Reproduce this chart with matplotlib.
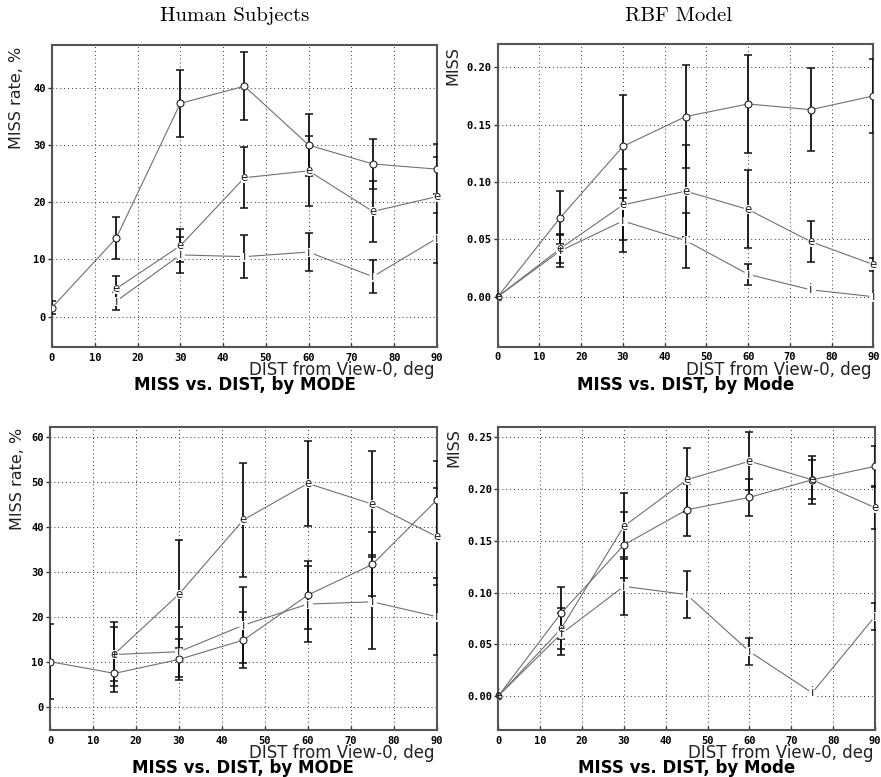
import matplotlib
matplotlib.use("Agg")
import matplotlib.pyplot as plt

# distances (deg) at which each mode was measured
dist = [0, 15, 30, 45, 60, 75, 90]
dist_late = [15, 30, 45, 60, 75, 90]

# top-left: human subjects, MISS rate %
hum_a_o = [1.6, 13.7, 37.3, 40.3, 30.0, 26.7, 25.8]
hum_a_o_err = [1.1, 3.7, 5.9, 5.9, 5.4, 4.3, 4.4]
hum_a_e = [4.9, 12.4, 24.3, 25.5, 18.4, 21.0]
hum_a_e_err = [2.2, 2.9, 5.3, 6.1, 5.4, 7.0]
hum_a_i = [2.7, 10.8, 10.5, 11.3, 7.0, 13.7]
hum_a_i_err = [1.6, 3.1, 3.8, 3.3, 2.9, 4.4]

# top-right: RBF model, MISS
rbf_a_o = [0.0, 0.069, 0.131, 0.157, 0.168, 0.163, 0.175]
rbf_a_o_err = [0.0, 0.023, 0.045, 0.045, 0.043, 0.036, 0.032]
rbf_a_e = [0.0, 0.042, 0.080, 0.092, 0.076, 0.048, 0.028]
rbf_a_e_err = [0.0, 0.013, 0.031, 0.040, 0.034, 0.018, 0.006]
rbf_a_i = [0.0, 0.040, 0.066, 0.049, 0.0195, 0.006, 0.0]
rbf_a_i_err = [0.0, 0.014, 0.027, 0.024, 0.009, 0.0, 0.0]

# bottom-left: human subjects, MISS rate %
hum_b_o = [10.0, 7.4, 10.5, 14.8, 24.8, 31.6, 45.9]
hum_b_o_err = [8.4, 4.1, 4.6, 6.3, 7.6, 7.1, 8.7]
hum_b_e = [11.7, 25.0, 41.5, 49.6, 45.0, 37.8]
hum_b_e_err = [7.2, 12.0, 12.7, 9.5, 11.8, 10.8]
hum_b_i = [11.6, 12.2, 18.1, 22.8, 23.3, 20.0]
hum_b_i_err = [6.0, 5.6, 8.4, 8.5, 10.5, 8.5]

# bottom-right: RBF model, MISS
rbf_b_o = [0.0, 0.080, 0.146, 0.180, 0.192, 0.209, 0.222]
rbf_b_o_err = [0.0, 0.025, 0.032, 0.025, 0.018, 0.019, 0.020]
rbf_b_e = [0.0, 0.065, 0.164, 0.209, 0.227, 0.209, 0.182]
rbf_b_e_err = [0.0, 0.020, 0.032, 0.031, 0.028, 0.023, 0.021]
rbf_b_i = [0.0, 0.060, 0.106, 0.098, 0.043, 0.003, 0.077]
rbf_b_i_err = [0.0, 0.020, 0.028, 0.023, 0.013, 0.0, 0.013]

fig = plt.figure(figsize=(8.81, 7.77), dpi=100)

def draw_series(ax, x, y, err, mode):
    ax.plot(x, y, color="#707070", lw=0.8, zorder=2)
    ax.errorbar(x, y, yerr=err, fmt="none", ecolor="#111111", elinewidth=1.3,
                capsize=3, capthick=1.1, zorder=3)
    if mode == "o":
        ax.plot(x, y, ls="none", marker="o", ms=5, mfc="white", mec="#222222",
                mew=0.8, zorder=5)
    else:
        ax.plot(x, y, ls="none", marker="o", ms=6.5, mfc="white", mec="none", zorder=4)
        for xi, yi in zip(x, y):
            ax.text(xi, yi, mode, ha="center", va="center", fontsize=8.5,
                    family="DejaVu Sans", color="#222222", zorder=5)

def setup(ax, ylim, yticks, yfmt, ylabel, ylab_x, title):
    ax.set_xlim(0, 90)
    ax.set_ylim(*ylim)
    ax.set_xticks(range(0, 91, 10))
    ax.set_yticks(yticks)
    ax.set_yticklabels([yfmt % t for t in yticks])
    ax.grid(True, color="#333333", ls=(0, (1, 3)), lw=0.7)
    for s in ax.spines.values():
        s.set_color("#555555")
        s.set_linewidth(1.5)
    ax.tick_params(axis="y", direction="out", length=3, width=1, pad=1.5,
                   labelsize=7.5, color="#333333")
    ax.tick_params(axis="x", direction="in", length=3, width=1, pad=4,
                   labelsize=7.5, color="#333333")
    for lab in ax.get_xticklabels() + ax.get_yticklabels():
        lab.set_family("DejaVu Sans Mono")
        lab.set_fontweight("bold")
    ax.text(ylab_x, 0.995, ylabel, transform=ax.transAxes, rotation=90,
            ha="center", va="top", fontsize=11.5, family="DejaVu Sans",
            color="#222222")
    ax.annotate("DIST from View-0, deg", xy=(1, 0), xycoords="axes fraction",
                xytext=(-2, -23), textcoords="offset pixels", ha="right",
                va="center", fontsize=12, family="DejaVu Sans", color="#222222")
    ax.annotate(title, xy=(0.5, 0), xycoords="axes fraction",
                xytext=(0, -38), textcoords="offset pixels", ha="center",
                va="center", fontsize=12, family="DejaVu Sans",
                fontweight="bold")

ax1 = fig.add_axes([0.059, 0.5534, 0.437, 0.3887])
draw_series(ax1, dist, hum_a_o, hum_a_o_err, "o")
draw_series(ax1, dist_late, hum_a_e, hum_a_e_err, "e")
draw_series(ax1, dist_late, hum_a_i, hum_a_i_err, "i")
setup(ax1, (-5.3, 47.5), [0, 10, 20, 30, 40], "%d", "MISS rate, %", -0.091,
      "MISS vs. DIST, by MODE")

ax2 = fig.add_axes([0.565, 0.5538, 0.4263, 0.3892])
draw_series(ax2, dist, rbf_a_o, rbf_a_o_err, "o")
draw_series(ax2, dist, rbf_a_e, rbf_a_e_err, "e")
draw_series(ax2, dist, rbf_a_i, rbf_a_i_err, "i")
setup(ax2, (-0.0436, 0.220), [0.0, 0.05, 0.10, 0.15, 0.20], "%.2f", "MISS",
      -0.12, "MISS vs. DIST, by Mode")

ax3 = fig.add_axes([0.0568, 0.0605, 0.4389, 0.3903])
draw_series(ax3, dist, hum_b_o, hum_b_o_err, "o")
draw_series(ax3, dist_late, hum_b_e, hum_b_e_err, "e")
draw_series(ax3, dist_late, hum_b_i, hum_b_i_err, "i")
setup(ax3, (-5.18, 62.2), [0, 10, 20, 30, 40, 50, 60], "%d", "MISS rate, %",
      -0.085, "MISS vs. DIST, by MODE")

ax4 = fig.add_axes([0.5656, 0.0605, 0.4276, 0.3903])
draw_series(ax4, dist, rbf_b_o, rbf_b_o_err, "o")
draw_series(ax4, dist, rbf_b_e, rbf_b_e_err, "e")
draw_series(ax4, dist, rbf_b_i, rbf_b_i_err, "i")
setup(ax4, (-0.0329, 0.2603), [0.0, 0.05, 0.10, 0.15, 0.20, 0.25], "%.2f",
      "MISS", -0.117, "MISS vs. DIST, by Mode")

fig.text(235 / 881, 1 - 16 / 777, "Human Subjects", family="cmr10", fontsize=15,
         ha="center", va="center")
fig.text(679 / 881, 1 - 16 / 777, "RBF Model", family="cmr10", fontsize=15,
         ha="center", va="center")

fig.savefig("out.png", dpi=100)
